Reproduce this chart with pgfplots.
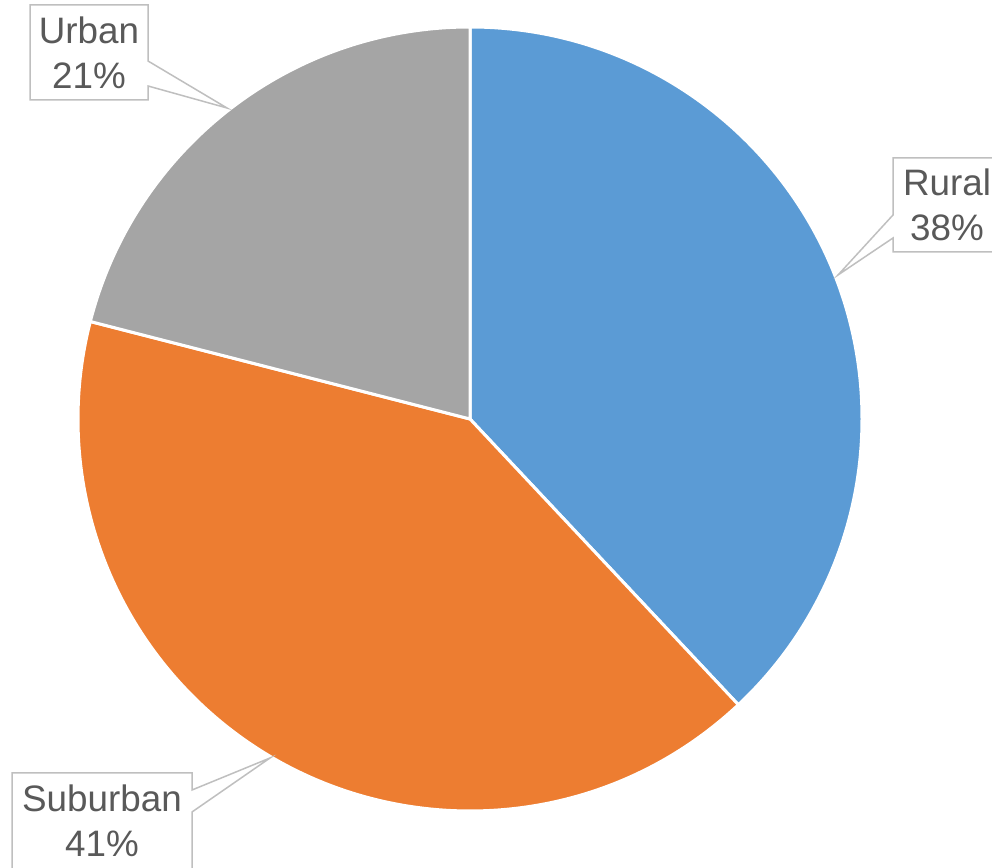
\documentclass[border=0pt]{standalone}
\usepackage{pgfplots}
\pgfplotsset{compat=1.18}
\usepackage{fontspec}
\setmainfont{Liberation Sans}
\definecolor{rural}{HTML}{5B9BD5}
\definecolor{suburban}{HTML}{ED7D31}
\definecolor{urban}{HTML}{A5A5A5}
\definecolor{labeltext}{HTML}{595959}
\definecolor{callout}{HTML}{BFBFBF}

% shares in percent
\def\vRural{38}
\def\vSuburban{41}
\def\vUrban{21}
\def\R{196pt}

\begin{document}
\begin{tikzpicture}
\begin{axis}[
    x=0.5pt, y=0.5pt,
    xmin=0, xmax=992,
    ymin=0, ymax=868,
    hide axis,
    clip=false,
]
\coordinate (ll) at (axis cs:0,0);
\coordinate (ur) at (axis cs:992,868);
\coordinate (c) at (axis cs:470,449);

% wedges, clockwise from the top
\pgfmathsetmacro{\aA}{90}
\pgfmathsetmacro{\aB}{\aA-\vRural*3.6}
\pgfmathsetmacro{\aC}{\aB-\vSuburban*3.6}
\pgfmathsetmacro{\aD}{\aC-\vUrban*3.6}
\fill[rural, draw=white, line width=1.5pt, line join=round]
    (c) -- ++(\aA:\R) arc[start angle=\aA, end angle=\aB, radius=\R] -- cycle;
\fill[suburban, draw=white, line width=1.5pt, line join=round]
    (c) -- ++(\aB:\R) arc[start angle=\aB, end angle=\aC, radius=\R] -- cycle;
\fill[urban, draw=white, line width=1.5pt, line join=round]
    (c) -- ++(\aC:\R) arc[start angle=\aC, end angle=\aD, radius=\R] -- cycle;

% callouts
\tikzset{lbl/.style={font=\fontsize{18.4}{22.5}\selectfont, text=labeltext, align=center}}
\filldraw[fill=white, draw=callout, line width=0.75pt]
    (axis cs:30,863) -- (axis cs:148,863) -- (axis cs:148,807) -- (axis cs:227,760)
    -- (axis cs:148,782) -- (axis cs:148,768) -- (axis cs:30,768) -- cycle;
\node[lbl] at (axis cs:89,815.5) {Urban\\21\%};

\filldraw[fill=white, draw=callout, line width=0.75pt]
    (axis cs:893,710) -- (axis cs:1001,710) -- (axis cs:1001,616) -- (axis cs:893,616)
    -- (axis cs:893,630) -- (axis cs:838,593) -- (axis cs:893,653) -- cycle;
\node[lbl] at (axis cs:947,663) {Rural\\38\%};

\filldraw[fill=white, draw=callout, line width=0.75pt]
    (axis cs:12,95) -- (axis cs:192,95) -- (axis cs:192,78) -- (axis cs:270,110)
    -- (axis cs:192,56) -- (axis cs:192,-12) -- (axis cs:12,-12) -- cycle;
\node[lbl] at (axis cs:102,47.5) {Suburban\\41\%};
\end{axis}
\pgfresetboundingbox
\path (ll) rectangle (ur);
\end{tikzpicture}
\end{document}
